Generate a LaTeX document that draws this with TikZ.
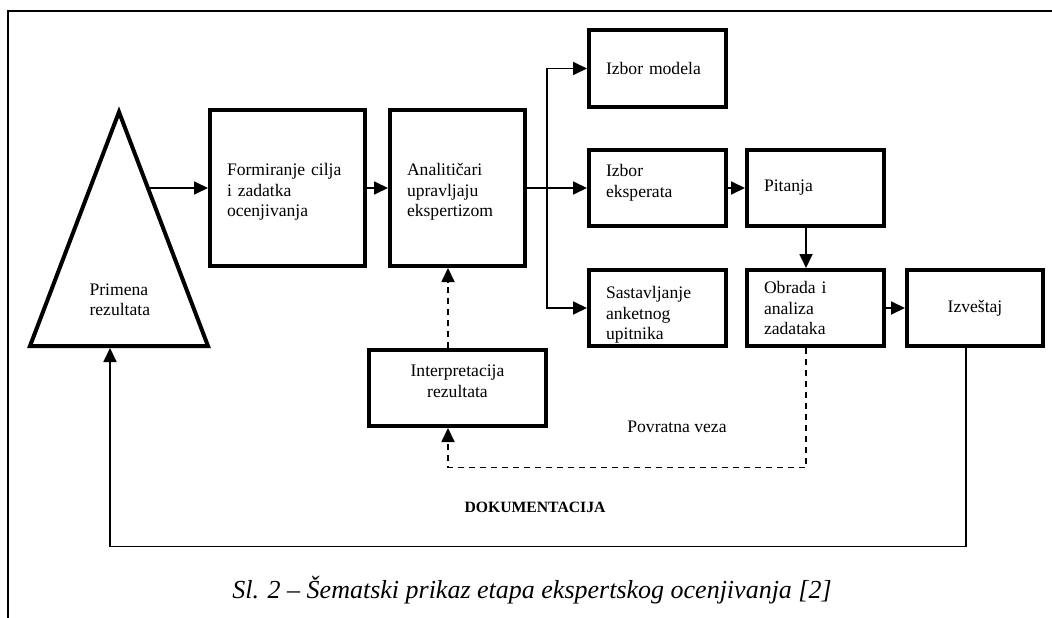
\documentclass[tikz,border=0pt]{standalone}
\usepackage{fontspec}
\setmainfont{Liberation Serif}
\usetikzlibrary{arrows.meta}

\begin{document}
\begin{tikzpicture}[x=1pt, y=-1pt,
  every node/.style = {font=\fontsize{17.6}{20.5}\selectfont},
  stage/.style = {shape=rectangle, draw, line width=4pt,
    inner xsep=17pt, inner ysep=0pt, align=left,
    text width=#1, minimum height=76pt},
  link/.style = {line width=1.8pt, -{Triangle[length=14pt,width=13pt]}},
  feedback/.style = {link, dash pattern=on 6pt off 5pt}]
  \useasboundingbox (0,0) rectangle (1052,618);
  \draw[line width=1.5pt] (8,618) -- (8,11) -- (1052,11);

  % triangle
  \draw[line width=4pt] (119,112) -- (208,346) -- (30,346) -- cycle;
  \coordinate (tri-out) at (150,188);
  \coordinate (tri-in) at (110,348);
  \node[align=left, anchor=west] (primena) at (86,300) {Primena\\ rezultata};

  \node[stage=121pt, minimum height=156pt] (form) at (287.5,188)
    {\rule{0pt}{20pt}Formiranje cilja\\ i zadatka\\ ocenjivanja};
  \node[stage=101pt, minimum height=156pt] (anal) at (457.5,188)
    {\rule{0pt}{20pt}Analitičari\\ upravljaju\\ ekspertizom};
  \node[stage=103pt] (model) at (657.5,68.5) {Izbor modela};
  \node[stage=103pt] (eksp) at (657.5,188)
    {Izbor\\ eksperata\rule[-14pt]{0pt}{14pt}};
  \node[stage=103pt] (sast) at (657.5,308)
    {\rule{0pt}{26pt}Sastavljanje\\ anketnog\\ upitnika};
  \node[stage=103pt] (pit) at (815.5,188) {Pitanja};
  \node[stage=103pt] (obr) at (815.5,308) {Obrada i\\ analiza\\ zadataka};
  \node[stage=102pt, align=center] (izv) at (975,308) {Izveštaj};
  \node[stage=143pt, align=center] (interp) at (457.5,388)
    {Interpretacija\\ rezultata\rule[-14pt]{0pt}{14pt}};

  \node (povratna) at (677,427) {Povratna veza};
  \node[font=\fontsize{15.7}{18}\selectfont\bfseries] (dok) at (535,507) {DOKUMENTACIJA};
  \node[font=\fontsize{26}{30}\selectfont\itshape] (caption) at (532,590)
    {Sl. 2 – Šematski prikaz etapa ekspertskog ocenjivanja [2]};

  \draw[link] (tri-out) -- (form);
  \draw[link] (form) -- (anal);
  \coordinate (fork) at (547,188);
  \draw[link] (anal) -- (eksp);
  \draw[link] (fork) |- (model);
  \draw[link] (fork) |- (sast);
  \draw[link] (eksp) -- (pit);
  \draw[link] ([xshift=-9.5pt]pit.south) -- ([xshift=-9.5pt]obr.north);
  \draw[link] (obr) -- (izv);
  \draw[feedback] ([xshift=-9.5pt]obr.south) -- ++(0,119.5) -| ([xshift=-9.5pt]interp.south);
  \draw[feedback] ([xshift=-9.5pt]interp.north) -- ([xshift=-9.5pt]anal.south);
  \draw[link] ([xshift=-9pt]izv.south) -- ++(0,198.5) -| (tri-in);
\end{tikzpicture}
\end{document}
